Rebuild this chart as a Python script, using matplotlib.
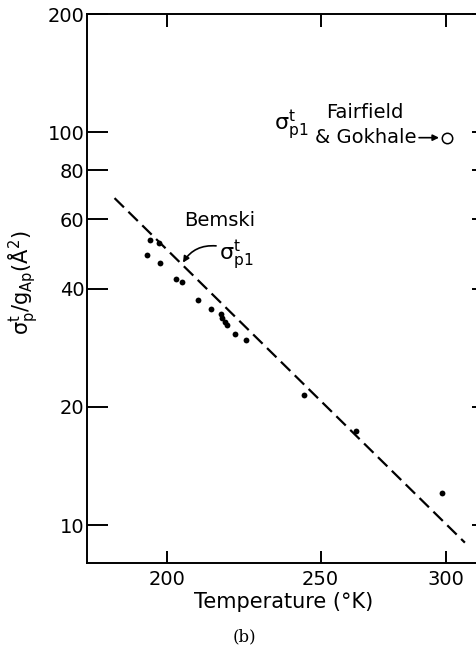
import matplotlib
matplotlib.use('Agg')
import matplotlib.pyplot as plt
from matplotlib.ticker import NullLocator, FixedLocator, FixedFormatter

plt.rcParams['font.family'] = ['DejaVu Sans']
plt.rcParams['mathtext.fontset'] = 'dejavusans'
plt.rcParams['mathtext.default'] = 'regular'
plt.rcParams['lines.scale_dashes'] = False

# измеренные точки (T, sigma/g)
temp = [195.0, 197.7, 194.3, 197.9, 202.5, 204.4, 209.2, 213.1, 216.1, 216.7,
        217.5, 218.2, 220.6, 224.2, 243.9, 263.3, 298.4]
sigma = [53.3, 52.4, 48.6, 46.5, 42.3, 41.7, 37.5, 35.6, 34.4, 33.6,
         32.9, 32.3, 30.6, 29.6, 21.5, 17.4, 12.1]

# Bemski (штриховая прямая)
bemski_t = [185.2, 308.4]
bemski_s = [68.0, 9.03]

# Fairfield & Gokhale
fg_t = [300.3]
fg_s = [96.7]

xticks = [200, 250, 300]
yticks = [10, 20, 40, 60, 80, 100, 200]

fig = plt.figure(figsize=(4.77, 6.46), dpi=100)
ax = fig.add_axes([0.1830, 0.1280, 0.8212, 0.8503])
ax.set_xscale('log')
ax.set_yscale('log')
ax.set_xlim(178.0, 314.8)
ax.set_ylim(8.0, 200.0)

ax.plot(bemski_t, bemski_s, color='black', lw=1.6, dashes=(9.5, 4.5))
ax.plot(temp, sigma, 'o', color='black', ms=4.2, mew=0)
ax.plot(fg_t, fg_s, 'o', mfc='white', mec='black', ms=7.5, mew=1.1)

for s in ax.spines.values():
    s.set_linewidth(1.4)
ax.spines['right'].set_visible(False)

ax.xaxis.set_major_locator(FixedLocator(xticks))
ax.xaxis.set_major_formatter(FixedFormatter([str(v) for v in xticks]))
ax.xaxis.set_minor_locator(NullLocator())
ax.yaxis.set_major_locator(FixedLocator(yticks))
ax.yaxis.set_major_formatter(FixedFormatter([str(v) for v in yticks]))
ax.yaxis.set_minor_locator(NullLocator())

ax.tick_params(axis='x', which='major', direction='in', top=True, bottom=True,
               length=9, width=1.4, labelsize=14, pad=5)
ax.tick_params(axis='y', which='major', direction='in', left=True, right=True,
               length=15, width=1.4, labelsize=14, pad=2)
for tk in ax.yaxis.get_major_ticks():
    tk.tick2line.set_markersize(5)

ax.set_xlabel('Temperature (°K)', fontsize=15, labelpad=2)
ax.set_ylabel(r'$\sigma_p^t/g_{Ap}(\AA^2)$', fontsize=15)
ax.yaxis.set_label_coords(-0.12, 0.51)

# подписи
ax.text(233.5, 103.9, r'$\sigma_{p1}^{t}$', fontsize=16, va='center', ha='left')
ax.text(251.9, 112.2, 'Fairfield', fontsize=14, va='center', ha='left')
ax.text(247.9, 96.9, '& Gokhale', fontsize=14, va='center', ha='left')
ax.annotate('', xy=(297.0, 96.9), xytext=(288.5, 96.9),
            arrowprops=dict(arrowstyle='-|>', color='black', lw=1.2,
                            mutation_scale=9, shrinkA=0, shrinkB=0))

ax.text(205.0, 59.6, 'Bemski', fontsize=14, va='center', ha='left')
ax.text(215.5, 48.5, r'$\sigma_{p1}^{t}$', fontsize=16, va='center', ha='left')
ax.annotate('', xy=(204.6, 46.6), xytext=(214.7, 51.4),
            arrowprops=dict(arrowstyle='-|>', color='black', lw=1.2,
                            mutation_scale=9, shrinkA=0, shrinkB=0,
                            connectionstyle='arc3,rad=0.3'))

fig.text(0.512, 0.014, '(b)', fontsize=12, family='DejaVu Serif',
         ha='center', va='center')

fig.savefig('out.png', dpi=100)
